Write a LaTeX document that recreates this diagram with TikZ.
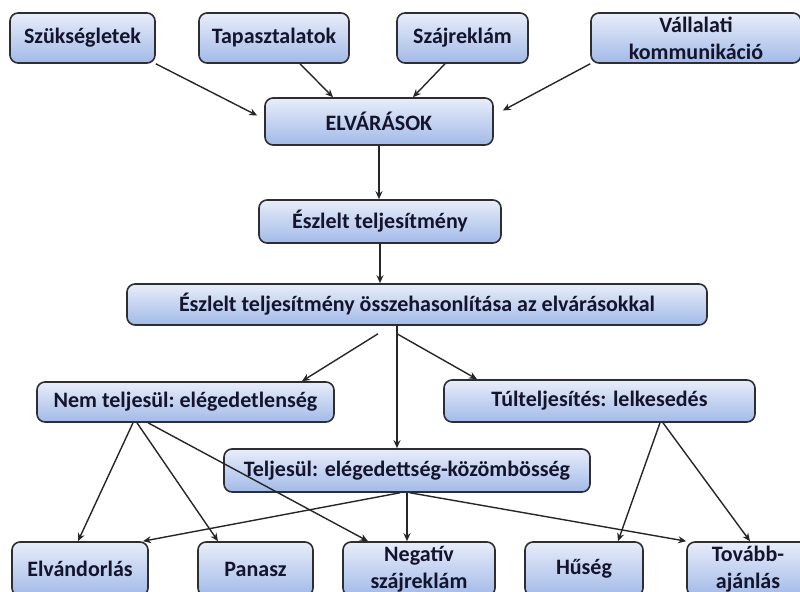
\documentclass[tikz,border=0pt]{standalone}
\usepackage{fontspec}
\setmainfont{Carlito}
\usepackage{tikz}
\usetikzlibrary{positioning, arrows.meta, calc}
\definecolor{boxtop}{RGB}{232,237,250}
\definecolor{boxbottom}{RGB}{162,186,232}
\definecolor{boxline}{RGB}{45,45,50}
\definecolor{boxtext}{RGB}{20,20,45}

\begin{document}
\begin{tikzpicture}[x=0.5pt, y=-0.5pt,
    box/.style={rectangle, rounded corners=4pt, draw=boxline, line width=0.8pt,
        top color=boxtop, bottom color=boxbottom, text=boxtext, align=center,
        inner sep=0pt, font=\fontsize{11}{13.5}\selectfont\bfseries},
    arr/.style={-{Stealth[length=4pt, width=3.5pt]}, line width=0.7pt, black!85}]

    \useasboundingbox (0,0) rectangle (800,592);

    % === FORRASOK ===
    \node[box, minimum width=72.5pt, minimum height=25pt] (szuk) at (82.5, 38) {Szükségletek};
    \node[box, minimum width=75pt, minimum height=25pt] (tapasz) at (274, 38) {Tapasztalatok};
    \node[box, minimum width=65.5pt, minimum height=25pt] (szaj) at (462.5, 38) {Szájreklám};
    \node[box, minimum width=105pt, minimum height=25pt] (vall) at (696, 38) {Vállalati\\kommunikáció};

    % === ELVARASOK ES TELJESITMENY ===
    \node[box, minimum width=114pt, minimum height=23.5pt] (elv) at (379, 121.5) {ELVÁRÁSOK};
    \node[box, minimum width=121pt, minimum height=21.5pt] (eszl) at (380, 221.5) {Észlelt teljesítmény};
    \node[box, minimum width=290pt, minimum height=20.5pt] (osszeh) at (417, 304.5) {Észlelt teljesítmény összehasonlítása az elvárásokkal};

    % === EREDMENYEK ===
    \node[box, minimum width=148.5pt, minimum height=20pt] (nem) at (185.5, 402) {Nem teljesül:\ elégedetlenség};
    \node[box, minimum width=155.5pt, minimum height=21pt] (tul) at (599.5, 401) {Túlteljesítés: lelkesedés};
    \node[box, minimum width=183pt, minimum height=21.5pt] (telj) at (407, 470.5) {Teljesül: elégedettség-közömbösség};

    % === KOVETKEZMENYEK ===
    \node[box, minimum width=68pt, minimum height=27pt] (elvand) at (80, 569) {Elvándorlás};
    \node[box, minimum width=57.5pt, minimum height=27pt] (panasz) at (255.5, 569) {Panasz};
    \node[box, minimum width=76pt, minimum height=27pt] (negativ) at (419, 569) {Negatív\\szájreklám};
    \node[box, minimum width=59pt, minimum height=27pt] (huseg) at (584, 569) {Hűség};
    \node[box, minimum width=61pt, minimum height=27pt] (tovabb) at (748, 569) {Tovább-\\ajánlás};

    % Nyilak az elvarasokhoz
    \draw[arr] (szuk.south east) -- ($(elv.west)+(-7,-6)$);
    \draw[arr] ($(tapasz.south)+(26,0)$) -- ($(elv.north)+(-46,0)$);
    \draw[arr] ($(szaj.south)+(-17.5,0)$) -- ($(elv.north)+(34,0)$);
    \draw[arr] (vall.south west) -- ($(elv.east)+(9,-11)$);

    % Fuggoleges lanc
    \draw[arr] (elv.south) -- (elv.south |- eszl.north);
    \draw[arr] (eszl.south) -- (eszl.south |- osszeh.north);
    \coordinate (oszl) at ($(osszeh.south)+(-20,0)$);
    \draw[arr] (oszl) -- (oszl |- telj.north);
    \draw[arr] ($(osszeh.south)+(-39,8)$) -- ($(nem.north)+(116.5,0)$);
    \draw[arr] ($(osszeh.south)+(-20,8)$) -- ($(tul.north)+(-122.5,0)$);

    % Nem teljesul
    \draw[arr] ($(nem.south)+(-52.5,0)$) -- ($(elvand.north)+(-2,0)$);
    \draw[arr] ($(nem.south)+(-48.5,0)$) -- ($(panasz.north)+(-37.5,0)$);
    \draw[arr] ($(nem.south)+(-37.5,0)$) -- ($(negativ.north)+(-51,0)$);

    % Teljesul
    \draw[arr] ($(telj.south)+(-7,0)$) -- ($(elvand.north)+(63,0)$);
    \draw[arr] (telj.south) -- (telj.south |- negativ.north);
    \draw[arr] ($(telj.south)+(3,0)$) -- (tovabb.north west);

    % Tulteljesites
    \draw[arr] ($(tul.south)+(60.5,0)$) -- ($(huseg.north)+(34,0)$);
    \draw[arr] ($(tul.south)+(63.5,0)$) -- ($(tovabb.north)+(2,0)$);

\end{tikzpicture}
\end{document}
